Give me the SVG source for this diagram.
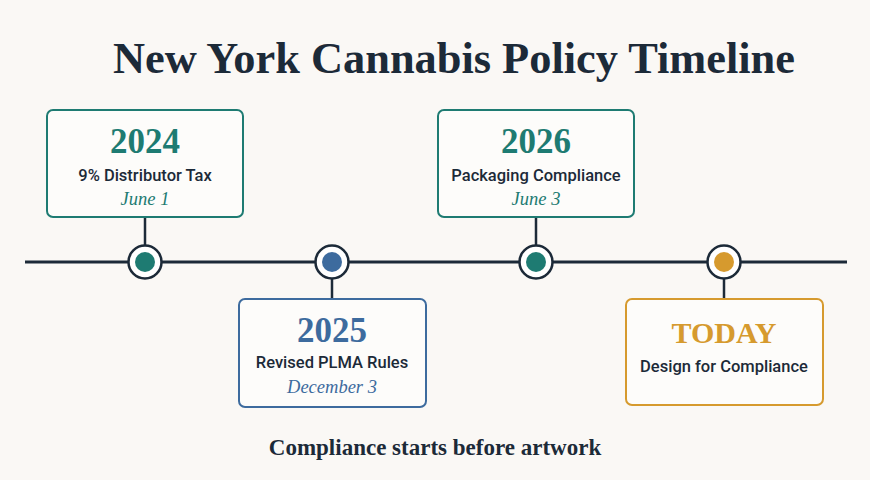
<svg xmlns="http://www.w3.org/2000/svg" width="870" height="480" viewBox="0 0 870 480">
<style>
.bg{fill:#faf8f5}
.title{font-family:"Liberation Serif","Times New Roman",serif;font-weight:bold;font-size:44px;fill:#1c2a38;text-anchor:middle}
.foot{font-family:"Liberation Serif","Times New Roman",serif;font-weight:bold;font-size:23px;fill:#1c2a38;text-anchor:middle}
.box{fill:#fdfcfa;stroke-width:2}
.year{font-family:"Liberation Serif","Times New Roman",serif;font-weight:bold;font-size:35px;text-anchor:middle}
.desc{font-family:Roboto,"Liberation Sans",sans-serif;font-weight:500;font-size:16.5px;fill:#1c2a38;text-anchor:middle}
.date{font-family:"Liberation Serif","Times New Roman",serif;font-style:italic;font-size:18.5px;text-anchor:middle}
.line{stroke:#1c2a38;stroke-width:3;fill:none}
.stem{stroke:#1c2a38;stroke-width:2.5;fill:none}
.ring{fill:#ffffff;stroke:#1c2a38;stroke-width:2.5}
.teal{stroke:#1e7b72}.tealf{fill:#1e7b72}
.blue{stroke:#3d6b9e}.bluef{fill:#3d6b9e}
.gold{stroke:#d69a2e}.goldf{fill:#d69a2e}
</style>
<rect class="bg" x="0" y="0" width="870" height="480"/>
<text class="title" x="454" y="73" textLength="682" lengthAdjust="spacingAndGlyphs">New York Cannabis Policy Timeline</text>
<g id="connectors">
<line class="line" x1="25" y1="262" x2="847" y2="262"/>
<line class="stem" x1="145" y1="217" x2="145" y2="246"/>
<line class="stem" x1="332" y1="278" x2="332" y2="299"/>
<line class="stem" x1="536" y1="217" x2="536" y2="246"/>
<line class="stem" x1="724" y1="278" x2="724" y2="299"/>
</g>
<g id="node-2024">
<circle class="ring" cx="145" cy="262" r="16.5"/>
<circle class="tealf" cx="145" cy="262" r="10"/>
<rect class="box teal" x="47" y="110" width="196" height="107" rx="6"/>
<text class="year tealf" x="145" y="153">2024</text>
<text class="desc" x="145" y="181">9% Distributor Tax</text>
<text class="date tealf" x="145" y="205">June 1</text>
</g>
<g id="node-2025">
<circle class="ring" cx="332" cy="262" r="16.5"/>
<circle class="bluef" cx="332" cy="262" r="10"/>
<rect class="box blue" x="239" y="299" width="187" height="108" rx="6"/>
<text class="year bluef" x="332" y="342">2025</text>
<text class="desc" x="332" y="368">Revised PLMA Rules</text>
<text class="date bluef" x="332" y="393">December 3</text>
</g>
<g id="node-2026">
<circle class="ring" cx="536" cy="262" r="16.5"/>
<circle class="tealf" cx="536" cy="262" r="10"/>
<rect class="box teal" x="438" y="110" width="196" height="107" rx="6"/>
<text class="year tealf" x="536" y="153">2026</text>
<text class="desc" x="536" y="181">Packaging Compliance</text>
<text class="date tealf" x="536" y="205">June 3</text>
</g>
<g id="node-today">
<circle class="ring" cx="724" cy="262" r="16.5"/>
<circle class="goldf" cx="724" cy="262" r="10"/>
<rect class="box gold" x="626" y="299" width="197" height="106" rx="6"/>
<text class="year goldf" x="724" y="343" style="font-size:30px">TODAY</text>
<text class="desc" x="724" y="372">Design for Compliance</text>
</g>
<text class="foot" x="435" y="455">Compliance starts before artwork</text>
</svg>
